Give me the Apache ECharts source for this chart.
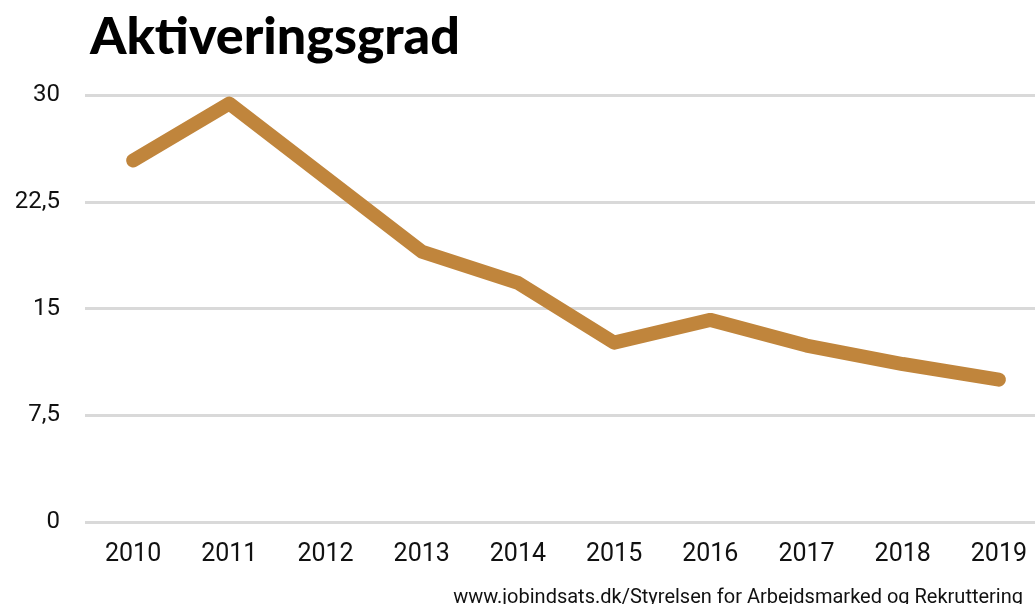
<!DOCTYPE html>
<html><head><meta charset="utf-8">
<script src="https://cdn.jsdelivr.net/npm/echarts@6/dist/echarts.min.js"></script>
<style>html,body{margin:0;padding:0;background:#fff}#c{width:1035px;height:604px}</style>
</head><body><div id="c"></div>
<script>
const years = ['2010','2011','2012','2013','2014','2015','2016','2017','2018','2019'];
const values = [25.4, 29.4, 24.2, 19.0, 16.8, 12.6, 14.2, 12.4, 11.1, 10.0];
const yTicks = [0, 7.5, 15, 22.5, 30];
const titleText = 'Aktiveringsgrad';
const sourceText = 'www.jobindsats.dk/Styrelsen for Arbejdsmarked og Rekruttering';

const chart = echarts.init(document.getElementById('c'), null, {renderer:'canvas'});
chart.setOption({
  animation: false,
  backgroundColor: '#fff',
  title: [{
    text: titleText, left: 85, top: 6,
    textStyle: {fontFamily: 'Lato', fontWeight: 900, fontSize: 52, color: '#000'}
  }, {
    text: sourceText, right: 7, top: 583,
    textStyle: {fontFamily: 'Roboto', fontWeight: 'normal', fontSize: 20, color: '#111'}
  }],
  grid: {left: 85, top: 95, width: 962, height: 427, outerBoundsMode: 'none', containLabel: false},
  xAxis: {
    type: 'category', data: years, boundaryGap: true,
    axisLine: {show: false}, axisTick: {show: false},
    axisLabel: {fontFamily: 'Roboto', fontSize: 25, color: '#111', margin: 20}
  },
  yAxis: {
    type: 'value', min: 0, max: 30, interval: 7.5,
    axisLine: {show: false}, axisTick: {show: false},
    splitLine: {lineStyle: {color: '#d9d9d9', width: 3}},
    axisLabel: {fontFamily: 'Roboto', fontSize: 24, color: '#111', margin: 25,
      formatter: v => yTicks.includes(v) ? String(v).replace('.', ',') : ''}
  },
  series: [{
    type: 'line', data: values, symbol: 'none',
    lineStyle: {color: '#C0853C', width: 14, cap: 'round', join: 'round'}
  }]
});
</script></body></html>
